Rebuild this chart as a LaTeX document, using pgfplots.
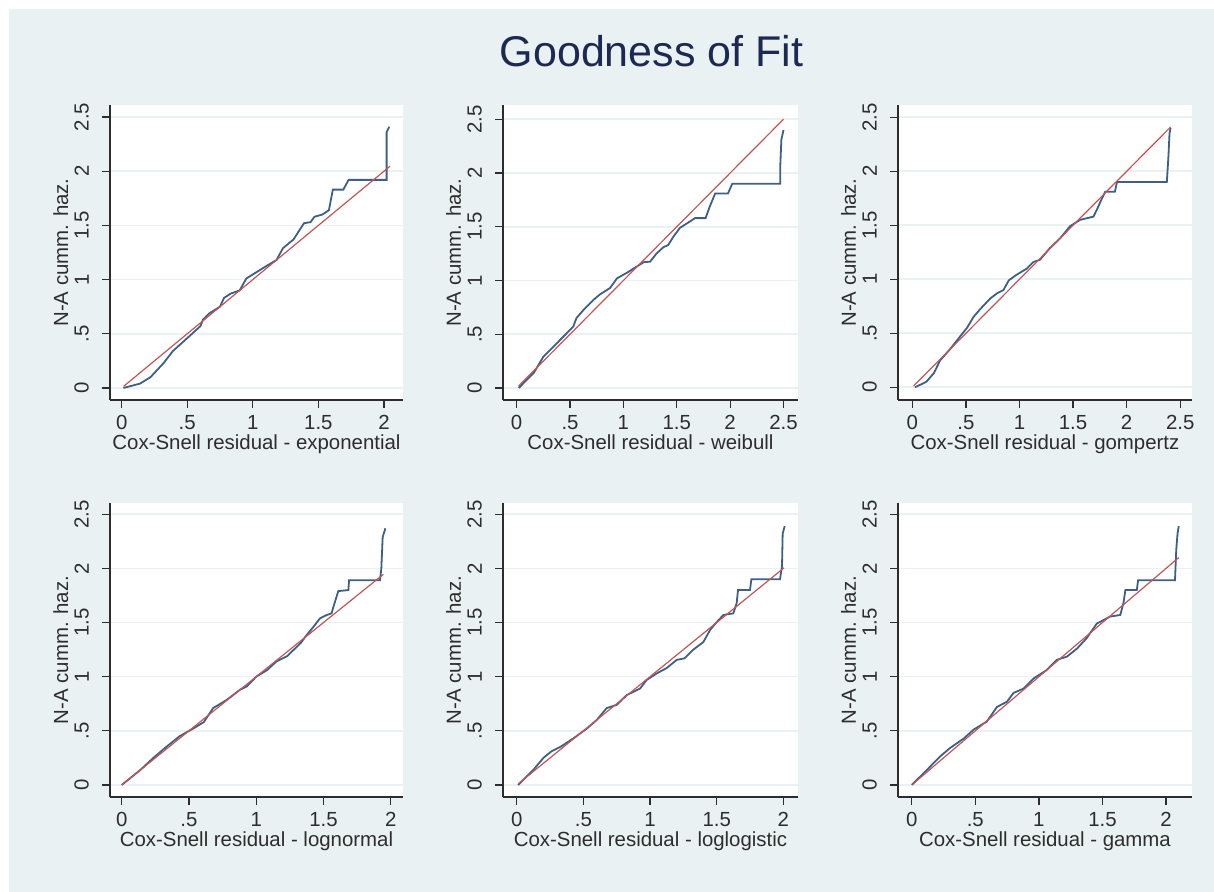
\documentclass[border=0pt]{standalone}
\usepackage{pgfplots}
\pgfplotsset{compat=1.18}
\usepackage{fontspec}
\setmainfont{Liberation Sans}
\definecolor{bgc}{RGB}{233,241,243}
\definecolor{navyl}{RGB}{62,96,130}
\definecolor{redl}{RGB}{195,85,85}
\definecolor{titc}{RGB}{28,42,82}
\definecolor{axc}{RGB}{45,45,45}
\pgfplotsset{gof/.style={
  scale only axis, axis lines=left, axis line style={-, axc, line width=0.6pt},
  axis background/.style={fill=white},
  tick align=outside, major tick length=4pt, tick style={axc, line width=0.6pt},
  minor tick num=0,
  xtick={0,0.5,1,1.5,2,2.5}, xticklabels={0,.5,1,1.5,2,2.5},
  ytick={0,0.5,1,1.5,2,2.5}, yticklabels={0,.5,1,1.5,2,2.5},
  ymajorgrids, grid style={bgc, line width=0.8pt},
  label style={font=\fontsize{10.2}{11}\selectfont, text=axc},
  ticklabel style={font=\fontsize{10.2}{11}\selectfont, text=axc},
  yticklabel style={rotate=90, anchor=south},
  yticklabel shift=3pt,
  ylabel={N-A cumm. haz.},
  ylabel style={at={(axis description cs:-0.143,0.5)}, anchor=base},
  xlabel style={at={(axis description cs:0.5,0)}, anchor=base, yshift=-25pt},
  anchor=south west,
  blue/.style={navyl, line width=0.9pt},
  red/.style={redl, line width=0.6pt},
}}
\begin{document}
\begin{tikzpicture}
\fill[white] (0,0) rectangle (607pt,446pt);
\fill[bgc] (4.5pt,0) rectangle (607pt,441.5pt);
\node[anchor=base, text=titc, font=\fontsize{21.5}{24}\selectfont] at (325.75pt,412.5pt) {Goodness of Fit};
% exponential
\begin{axis}[gof, at={(55pt,246pt)}, width=146.5pt, height=147.5pt,
  xmin=-0.089, xmax=2.145, ymin=-0.111, ymax=2.611,
  xlabel={Cox-Snell residual - exponential}]
\addplot[blue] coordinates {(0.013,0) (0.14,0.04) (0.22,0.10) (0.32,0.23) (0.39,0.34) (0.50,0.46) (0.60,0.57) (0.62,0.63) (0.67,0.69) (0.75,0.75) (0.78,0.83) (0.83,0.87) (0.90,0.90) (0.95,1.01) (1.03,1.07) (1.11,1.13) (1.18,1.18) (1.23,1.29) (1.31,1.37) (1.39,1.52) (1.44,1.53) (1.47,1.58) (1.53,1.60) (1.58,1.64) (1.61,1.83) (1.69,1.83) (1.73,1.92) (2.02,1.92) (2.02,2.36) (2.04,2.41)};
\addplot[red] coordinates {(0.015,0.015) (2.045,2.045)};
\end{axis}
% weibull
\begin{axis}[gof, at={(251.5pt,246pt)}, width=147.5pt, height=147.5pt,
  xmin=-0.128, xmax=2.636, ymin=-0.112, ymax=2.633,
  xlabel={Cox-Snell residual - weibull}]
\addplot[blue] coordinates {(0.02,0) (0.16,0.14) (0.25,0.29) (0.34,0.38) (0.44,0.48) (0.53,0.57) (0.56,0.65) (0.63,0.73) (0.72,0.82) (0.78,0.87) (0.875,0.93) (0.94,1.02) (1.03,1.07) (1.125,1.13) (1.19,1.17) (1.25,1.175) (1.31,1.25) (1.375,1.31) (1.42,1.33) (1.47,1.41) (1.53,1.49) (1.625,1.55) (1.67,1.58) (1.77,1.58) (1.81,1.69) (1.86,1.81) (1.98,1.81) (2.02,1.90) (2.47,1.90) (2.47,2.07) (2.48,2.31) (2.5,2.40)};
\addplot[red] coordinates {(0.016,0.016) (2.5,2.5)};
\end{axis}
% gompertz
\begin{axis}[gof, at={(449pt,246pt)}, width=147pt, height=147.5pt,
  xmin=-0.134, xmax=2.61, ymin=-0.118, ymax=2.614,
  xlabel={Cox-Snell residual - gompertz}]
\addplot[blue] coordinates {(0.025,0) (0.13,0.05) (0.20,0.13) (0.26,0.25) (0.35,0.35) (0.445,0.47) (0.51,0.55) (0.57,0.65) (0.63,0.72) (0.725,0.82) (0.79,0.87) (0.85,0.90) (0.90,0.99) (0.97,1.04) (1.07,1.10) (1.13,1.16) (1.19,1.18) (1.285,1.29) (1.38,1.38) (1.47,1.49) (1.565,1.55) (1.69,1.58) (1.72,1.64) (1.77,1.75) (1.80,1.81) (1.89,1.81) (1.91,1.90) (2.375,1.90) (2.39,2.14) (2.40,2.35) (2.41,2.40)};
\addplot[red] coordinates {(0.01,0.01) (2.41,2.41)};
\end{axis}
% lognormal
\begin{axis}[gof, at={(55pt,47.5pt)}, width=146.5pt, height=147pt,
  xmin=-0.087, xmax=2.091, ymin=-0.111, ymax=2.604,
  xlabel={Cox-Snell residual - lognormal}]
\addplot[blue] coordinates {(0,0) (0.14,0.14) (0.235,0.25) (0.33,0.35) (0.43,0.45) (0.53,0.52) (0.61,0.58) (0.68,0.71) (0.78,0.785) (0.88,0.88) (0.93,0.91) (1.00,1.00) (1.08,1.06) (1.15,1.14) (1.23,1.19) (1.28,1.25) (1.33,1.31) (1.375,1.385) (1.425,1.46) (1.475,1.54) (1.525,1.57) (1.56,1.585) (1.575,1.65) (1.61,1.79) (1.685,1.80) (1.69,1.89) (1.92,1.89) (1.93,2.00) (1.94,2.29) (1.96,2.37)};
\addplot[red] coordinates {(0,0) (1.945,1.945)};
\end{axis}
% loglogistic
\begin{axis}[gof, at={(251.5pt,47.5pt)}, width=147.5pt, height=147pt,
  xmin=-0.103, xmax=2.11, ymin=-0.111, ymax=2.604,
  xlabel={Cox-Snell residual - loglogistic}]
\addplot[blue] coordinates {(0.01,0) (0.125,0.14) (0.2,0.25) (0.26,0.31) (0.325,0.35) (0.425,0.43) (0.525,0.52) (0.6,0.60) (0.675,0.71) (0.75,0.74) (0.825,0.83) (0.925,0.89) (0.975,0.97) (1.05,1.03) (1.125,1.08) (1.2,1.155) (1.26,1.17) (1.325,1.25) (1.4,1.32) (1.45,1.43) (1.49,1.49) (1.55,1.57) (1.625,1.585) (1.65,1.68) (1.66,1.80) (1.75,1.80) (1.76,1.90) (1.975,1.90) (1.99,2.02) (1.995,2.32) (2.01,2.39)};
\addplot[red] coordinates {(0.0125,0.0125) (2.005,2.005)};
\end{axis}
% gamma
\begin{axis}[gof, at={(449pt,47.5pt)}, width=147pt, height=147pt,
  xmin=-0.108, xmax=2.204, ymin=-0.111, ymax=2.604,
  xlabel={Cox-Snell residual - gamma}]
\addplot[blue] coordinates {(0,0) (0.12,0.14) (0.22,0.26) (0.30,0.34) (0.41,0.43) (0.485,0.51) (0.59,0.585) (0.67,0.72) (0.75,0.77) (0.80,0.85) (0.88,0.89) (0.96,0.985) (1.06,1.06) (1.14,1.155) (1.22,1.185) (1.30,1.26) (1.375,1.355) (1.455,1.49) (1.56,1.555) (1.64,1.57) (1.665,1.68) (1.68,1.80) (1.77,1.80) (1.78,1.89) (2.07,1.89) (2.08,2.17) (2.09,2.32) (2.10,2.39)};
\addplot[red] coordinates {(0.005,0.005) (2.10,2.10)};
\end{axis}
\end{tikzpicture}
\end{document}
